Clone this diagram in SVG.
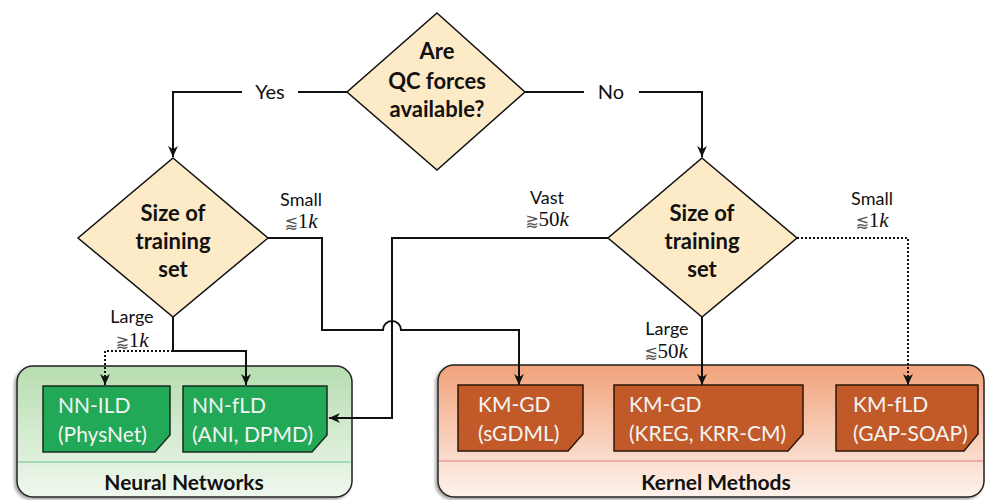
<svg xmlns="http://www.w3.org/2000/svg" width="987" height="500" viewBox="0 0 987 500">
<style>
.dia{fill:#fdeac6;stroke:#111;stroke-width:1.5}
.dt{font-family:Lato,"Liberation Sans",sans-serif;font-weight:bold;font-size:22px;fill:#111;text-anchor:middle}
.lbl{font-family:Lato,"Liberation Sans",sans-serif;font-size:18px;fill:#111;text-anchor:middle}
.yn{font-family:Lato,"Liberation Sans",sans-serif;font-size:20px;fill:#111;text-anchor:middle}
.math{font-family:"Liberation Serif","DejaVu Serif",serif;font-size:21px}
.sym{font-family:"DejaVu Sans",sans-serif;font-size:16px;fill:#555}
.con{fill:none;stroke:#111;stroke-width:2}
.dot{stroke-dasharray:2 2}
.gbox{fill:#21a957;stroke:#1a2a1e;stroke-width:1.5}
.obox{fill:#c15a28;stroke:#2e1608;stroke-width:1.5}
.bt{font-family:Lato,"Liberation Sans",sans-serif;font-size:21px;fill:#f4f4f4}
.pt{font-family:Lato,"Liberation Sans",sans-serif;font-weight:bold;font-size:21px;fill:#111;text-anchor:middle}
</style>
<defs>
<marker id="arr" viewBox="0 0 10 10" refX="10" refY="5" markerWidth="11" markerHeight="11" orient="auto" markerUnits="userSpaceOnUse">
<path d="M0,0.5 L10,5 L0,9.5 L3,5 Z" fill="#111"/>
</marker>
<linearGradient id="gg" x1="0" y1="0" x2="0" y2="1">
<stop offset="0" stop-color="#b6ddb0"/>
<stop offset="1" stop-color="#f0f8ee"/>
</linearGradient>
<linearGradient id="og" x1="0" y1="0" x2="0" y2="1">
<stop offset="0" stop-color="#f1a27a"/>
<stop offset="1" stop-color="#fef3ed"/>
</linearGradient>
<filter id="sh" x="-5%" y="-5%" width="110%" height="115%">
<feDropShadow dx="-2" dy="2" stdDeviation="1.5" flood-color="#666" flood-opacity="0.6"/>
</filter>
</defs>

<g id="panel-nn">
<rect x="17" y="366" width="335" height="131" rx="16" fill="url(#gg)" stroke="#222" stroke-width="1.5" filter="url(#sh)"/>
<line x1="18" y1="462" x2="351" y2="462" stroke="#6cc38c" stroke-width="1"/>
<text class="pt" x="184" y="490">Neural Networks</text>
</g>
<g id="panel-km">
<rect x="438" y="365" width="546" height="132" rx="16" fill="url(#og)" stroke="#222" stroke-width="1.5" filter="url(#sh)"/>
<line x1="439" y1="461" x2="983" y2="461" stroke="#e57b86" stroke-width="1"/>
<text class="pt" x="716" y="490">Kernel Methods</text>
</g>

<g id="connectors">
<path class="con" d="M347,92 H298 M242,92 H173 V157" marker-end="url(#arr)"/>
<path class="con" d="M525,92 H584 M639,92 H702 V157" marker-end="url(#arr)"/>
<path class="con" d="M268,238 H322 V330 H383 A9,9 0 0 1 401,330 H519 V385" marker-end="url(#arr)"/>
<path class="con" d="M608,238 H392 V418 H329" marker-end="url(#arr)"/>
<path class="con" d="M173,317 V351 H246 V385" marker-end="url(#arr)"/>
<path class="con dot" d="M173,351 H105 V385" marker-end="url(#arr)"/>
<path class="con" d="M702,317 V385" marker-end="url(#arr)"/>
<path class="con dot" d="M797,238 H908 V385" marker-end="url(#arr)"/>
<text class="yn" x="270" y="99">Yes</text>
<text class="yn" x="611" y="99">No</text>
<text class="lbl" x="301" y="206">Small</text>
<text class="lbl" x="301" y="228"><tspan class="sym">⪅</tspan><tspan class="math">1<tspan font-style="italic">k</tspan></tspan></text>
<text class="lbl" x="547" y="204">Vast</text>
<text class="lbl" x="547" y="226"><tspan class="sym">⪆</tspan><tspan class="math">50<tspan font-style="italic">k</tspan></tspan></text>
<text class="lbl" x="872" y="205">Small</text>
<text class="lbl" x="872" y="227"><tspan class="sym">⪅</tspan><tspan class="math">1<tspan font-style="italic">k</tspan></tspan></text>
<text class="lbl" x="132" y="323">Large</text>
<text class="lbl" x="132" y="347"><tspan class="sym">⪆</tspan><tspan class="math">1<tspan font-style="italic">k</tspan></tspan></text>
<text class="lbl" x="667" y="335">Large</text>
<text class="lbl" x="666" y="358"><tspan class="sym">⪅</tspan><tspan class="math">50<tspan font-style="italic">k</tspan></tspan></text>
</g>

<g id="q-forces">
<polygon class="dia" points="437,13 525,92 437,170 347,92"/>
<text class="dt" x="437" y="59">Are</text>
<text class="dt" x="437" y="89">QC forces</text>
<text class="dt" x="437" y="117">available?</text>
</g>
<g id="q-size-left">
<polygon class="dia" points="173,158 268,238 173,317 78,238"/>
<text class="dt" x="173" y="221">Size of</text>
<text class="dt" x="173" y="249">training</text>
<text class="dt" x="173" y="277">set</text>
</g>
<g id="q-size-right">
<polygon class="dia" points="702,158 797,238 702,317 608,238"/>
<text class="dt" x="702" y="221">Size of</text>
<text class="dt" x="702" y="249">training</text>
<text class="dt" x="702" y="277">set</text>
</g>

<g id="nn-ild">
<path class="gbox" d="M43,386 H170 V435 L155,452 H43 Z"/>
<text class="bt" x="58" y="413">NN-ILD</text>
<text class="bt" x="58" y="442">(PhysNet)</text>
</g>
<g id="nn-fld">
<path class="gbox" d="M183,386 H327 V435 L312,452 H183 Z"/>
<text class="bt" x="192" y="413">NN-fLD</text>
<text class="bt" x="192" y="442">(ANI, DPMD)</text>
</g>
<g id="km-gd-sgdml">
<path class="obox" d="M458,385 H583 V434 L568,451 H458 Z"/>
<text class="bt" x="478" y="412">KM-GD</text>
<text class="bt" x="478" y="441">(sGDML)</text>
</g>
<g id="km-gd-kreg">
<path class="obox" d="M614,385 H803 V434 L788,451 H614 Z"/>
<text class="bt" x="629" y="412">KM-GD</text>
<text class="bt" x="629" y="441">(KREG, KRR-CM)</text>
</g>
<g id="km-fld">
<path class="obox" d="M836,385 H978 V434 L964,451 H836 Z"/>
<text class="bt" x="853" y="412">KM-fLD</text>
<text class="bt" x="853" y="441">(GAP-SOAP)</text>
</g>
</svg>
